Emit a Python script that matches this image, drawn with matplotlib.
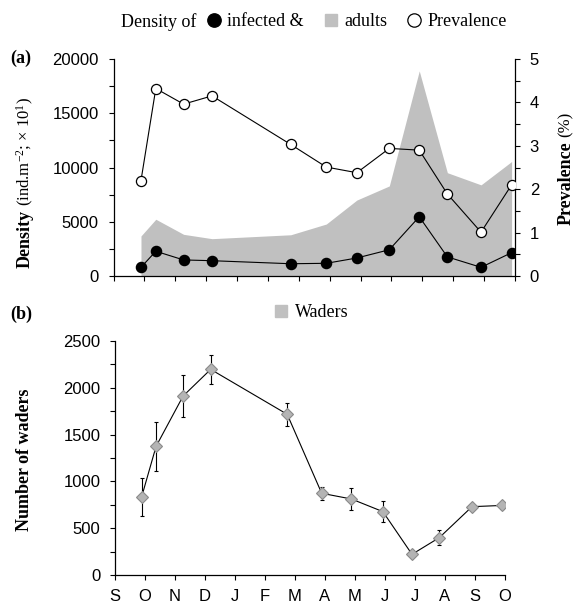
import matplotlib
matplotlib.use("Agg")
import matplotlib.pyplot as plt
from matplotlib.lines import Line2D
from matplotlib.ticker import MultipleLocator

plt.rcParams['font.family'] = ['Liberation Serif', 'DejaVu Serif']
plt.rcParams['mathtext.fontset'] = 'custom'
plt.rcParams['mathtext.rm'] = 'Liberation Serif'
plt.rcParams['mathtext.it'] = 'Liberation Serif:italic'
plt.rcParams['mathtext.bf'] = 'Liberation Serif:bold'

########################################################################################################################
# sampling dates, in months counted from the start of September
sample_month = [0.89, 1.37, 2.27, 3.19, 5.74, 6.89, 7.88, 8.93, 9.90, 10.81, 11.90, 12.89]
month_labels = ['S', 'O', 'N', 'D', 'J', 'F', 'M', 'A', 'M', 'J', 'J', 'A', 'S', 'O']

# (a) snail densities and prevalence
density_adults = [3690, 5230, 3840, 3440, 3800, 4790, 7000, 8300, 18900, 9520, 8400, 10550]
density_infected = [800, 2280, 1480, 1410, 1130, 1170, 1660, 2420, 5460, 1760, 800, 2150]
prevalence = [2.20, 4.32, 3.96, 4.15, 3.03, 2.51, 2.38, 2.94, 2.90, 1.89, 1.01, 2.10]

# (b) wader counts with error
waders = [837, 1375, 1912, 2197, 1717, 873, 812, 677, 221, 399, 730, 743]
waders_err = [203, 263, 225, 158, 120, 71, 113, 110, 15, 77, 15, 42]

GREY = '#c0c0c0'
W, H = 574, 607
########################################################################################################################


def px(x, y):
    # pixel position (from top-left) -> figure fraction
    return x / W, 1 - y / H


def style_ticks(ax):
    ax.tick_params(which='both', direction='out', length=3.6, width=0.8, pad=7,
                   labelsize=12, labelfontfamily='Liberation Sans')


fig = plt.figure(figsize=(W / 100, H / 100), dpi=100)

# ---------------------------------------------------------------- panel (a)
ax_a = fig.add_axes([113.5 / W, 1 - 276 / H, (515 - 113.5) / W, 217 / H])
ax_a.fill_between(sample_month, density_adults, color=GREY, lw=0, zorder=1)
ax_a.plot(sample_month, density_infected, '-o', color='black', lw=0.8, ms=7.3,
          mfc='black', mec='black', zorder=3)
ax_a.set_xlim(0, 13)
ax_a.set_ylim(0, 20000)
ax_a.set_xticks(range(14))
ax_a.yaxis.set_major_locator(MultipleLocator(5000))
ax_a.yaxis.set_minor_locator(MultipleLocator(2500))
ax_a.tick_params(axis='x', labelbottom=False)
for side in ['top', 'right']:
    ax_a.spines[side].set_visible(False)

ax_p = ax_a.twinx()
ax_p.plot(sample_month, prevalence, '-o', color='black', lw=0.8, ms=7.3,
          mfc='white', mec='black', mew=0.9, zorder=4)
ax_p.set_ylim(0, 5)
ax_p.yaxis.set_major_locator(MultipleLocator(1))
ax_p.yaxis.set_minor_locator(MultipleLocator(0.5))
for side in ['top', 'left', 'bottom']:
    ax_p.spines[side].set_visible(False)

# ---------------------------------------------------------------- panel (b)
ax_b = fig.add_axes([115 / W, 1 - 575 / H, 390 / W, 234 / H])
ax_b.errorbar(sample_month, waders, yerr=waders_err, fmt='none', ecolor='black',
              elinewidth=0.8, capsize=1.6, capthick=0.8, zorder=2)
ax_b.plot(sample_month, waders, '-', color='black', lw=0.8, zorder=3)
ax_b.plot(sample_month, waders, 'D', ms=6.3, mfc='#b4b4b4', mec='#8a8a8a', mew=0.8, zorder=4)
ax_b.set_xlim(0, 13)
ax_b.set_ylim(0, 2500)
ax_b.set_xticks(range(14))
ax_b.set_xticklabels(month_labels)
ax_b.yaxis.set_major_locator(MultipleLocator(500))
ax_b.yaxis.set_minor_locator(MultipleLocator(250))
for side in ['top', 'right']:
    ax_b.spines[side].set_visible(False)

for ax in [ax_a, ax_p, ax_b]:
    for sp in ax.spines.values():
        sp.set_linewidth(0.9)
    style_ticks(ax)
ax_b.tick_params(axis='x', pad=6.5)

# ---------------------------------------------------------------- legends and labels
fig.text(*px(120.7, 22), 'Density of', fontsize=13, ha='left', va='center')
handles_a = [
    Line2D([], [], ls='none', marker='o', ms=9.6, mfc='black', mec='black'),
    Line2D([], [], ls='none', marker='s', ms=8.5, mfc=GREY, mec=GREY),
    Line2D([], [], ls='none', marker='o', ms=9.6, mfc='white', mec='black', mew=0.9),
]
fig.legend(handles_a, ['infected &', 'adults', 'Prevalence'], ncol=3, loc='center left',
           bbox_to_anchor=px(204.5, 22), frameon=False, fontsize=13, borderpad=0,
           borderaxespad=0, handlelength=1.0, handletextpad=0.25, columnspacing=1.0)

handles_b = [Line2D([], [], ls='none', marker='s', ms=8.5, mfc=GREY, mec=GREY)]
fig.legend(handles_b, ['Waders'], loc='center left', bbox_to_anchor=px(272, 312.5),
           frameon=False, fontsize=13, borderpad=0, borderaxespad=0,
           handlelength=1.0, handletextpad=0.25)

fig.text(*px(21, 58), '(a)', fontsize=13, fontweight='bold', ha='center', va='center')
fig.text(*px(21, 314), '(b)', fontsize=13, fontweight='bold', ha='center', va='center')

# two-part rotated axis labels: bold name followed by the unit in normal weight
dens = fig.text(*px(25, 268), 'Density', fontsize=13, fontweight='bold', rotation=90,
                ha='center', va='bottom')
prev = fig.text(*px(566, 225), 'Prevalence', fontsize=13, fontweight='bold', rotation=90,
                ha='center', va='bottom')
fig.text(*px(25, 460), 'Number of waders', fontsize=13, fontweight='bold', rotation=90,
         ha='center', va='center')

fig.canvas.draw()
renderer = fig.canvas.get_renderer()
inv = fig.transFigure.inverted()
for t, unit in [(dens, '(ind.m$^{-2}$; × 10$^{1}$)'), (prev, '(%)')]:
    bb = t.get_window_extent(renderer)
    x0, y_top = inv.transform((bb.x0 + bb.width / 2, bb.y1 + 4))
    fig.text(x0, y_top, unit, fontsize=12, rotation=90, ha='center', va='bottom')

fig.savefig('out.png', dpi=100)
